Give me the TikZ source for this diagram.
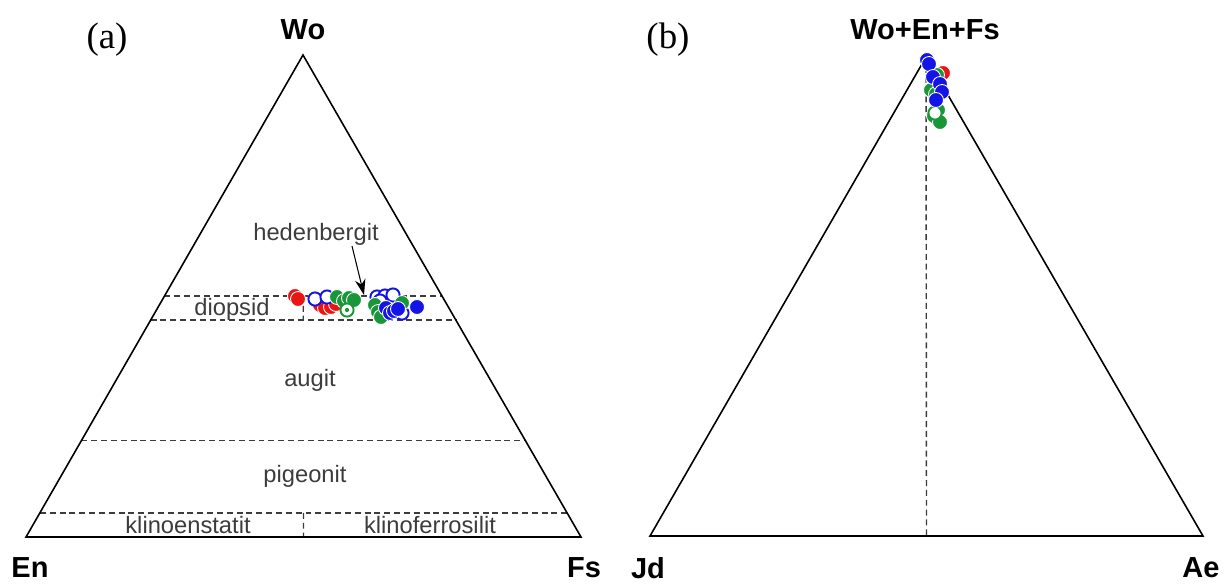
\documentclass[tikz,border=0pt]{standalone}
\usepackage{fontspec}
\setmainfont{Liberation Sans}
\newfontfamily\panelfont{Liberation Serif}
\usetikzlibrary{calc,arrows.meta}
\definecolor{ptred}{RGB}{235,20,20}
\definecolor{ptblue}{RGB}{20,20,230}
\definecolor{ptgreen}{RGB}{25,150,55}
\definecolor{fieldgray}{RGB}{60,60,60}

\begin{document}
\begin{tikzpicture}[x=0.02cm,y=-0.02cm,
	side/.style={line width=0.9pt},
	field/.style={fieldgray, line width=0.8pt, dash pattern=on 3.4pt off 2.2pt},
	apexlabel/.style={font=\bfseries\fontsize{16.5}{18}\selectfont},
	fieldlabel/.style={font=\fontsize{13.5}{15}\selectfont, text=fieldgray},
	panel/.style={font=\panelfont\fontsize{21}{24}\selectfont},
	ptdot/.style={circle, inner sep=0pt, minimum size=8.5pt, draw=white, line width=0.5pt, fill=#1},
	ptring/.style={circle, inner sep=0pt, minimum size=7.5pt, draw=#1, line width=1.1pt, fill=white}]
	\useasboundingbox (0,0) rectangle (1224,583);
	% corners of the two triangles
	\coordinate (Wo) at (303,55);
	\coordinate (En) at (26,537);
	\coordinate (Fs) at (581,537);
	\coordinate (WEF) at (926,57);
	\coordinate (Jd) at (650,536);
	\coordinate (Ae) at (1203,536);

	% (a) pyroxene quadrilateral fields
	\draw[field] ($(En)!0.5!(Wo)$) coordinate (w50l) -- ($(Fs)!0.5!(Wo)$) coordinate (w50r);
	\draw[field] ($(En)!0.45!(Wo)$) coordinate (w45l) -- ($(Fs)!0.45!(Wo)$) coordinate (w45r);
	\draw[field] ($(En)!0.2!(Wo)$) -- ($(Fs)!0.2!(Wo)$);
	\draw[field] ($(En)!0.05!(Wo)$) coordinate (w05l) -- ($(Fs)!0.05!(Wo)$) coordinate (w05r);
	\draw[field] ($(w50l)!0.5!(w50r)$) -- ($(w45l)!0.5!(w45r)$);
	\draw[field] ($(w05l)!0.5!(w05r)$) -- ($(En)!0.5!(Fs)$);
	\draw[side] (En) -- (Fs) -- (Wo) -- cycle;

	% (b)
	\draw[field] (WEF) -- ($(Jd)!0.5!(Ae)$);
	\draw[side] (Jd) -- (Ae) -- (WEF) -- cycle;

	\node[panel] at (107,40) (panelA) {(a)};
	\node[panel] at (668,40) (panelB) {(b)};
	\node[apexlabel] at (303,30) (woLabel) {Wo};
	\node[apexlabel] at (30,568) (enLabel) {En};
	\node[apexlabel] at (584,568) (fsLabel) {Fs};
	\node[apexlabel] at (925,30) (wefLabel) {Wo+En+Fs};
	\node[apexlabel] at (648,568) (jdLabel) {Jd};
	\node[apexlabel] at (1201,568) (aeLabel) {Ae};

	\node[fieldlabel] at (316,234) (hedLabel) {hedenbergit};
	\node[fieldlabel] at (232,309) (diLabel) {diopsid};
	\node[fieldlabel] at (310,380) (augLabel) {augit};
	\node[fieldlabel] at (305,476) (pigLabel) {pigeonit};
	\node[fieldlabel] at (188,525) (kenLabel) {klinoenstatit};
	\node[fieldlabel] at (430,525) (kfsLabel) {klinoferrosilit};
	\coordinate (hedTail) at (352,246);
	\coordinate (hedTip) at (364,295);
	\draw[-{Stealth[length=9pt,width=6pt]}, line width=0.6pt] (hedTail) -- (hedTip);

	% analyses, diagram (a)
	\foreach \p [count=\i] in {(295,296),(298,299),(320,305),(325,308),(331,307),(336,304)}
		\node[ptdot=ptred] (redA\i) at \p {};
	\node[circle, fill=ptred, inner sep=0pt, minimum size=2pt] (redA0) at (342,305) {};
	\foreach \p [count=\i] in {(315,299),(327,297),(377,297),(385,296),(393,295),(380,301),(402,313)}
		\node[ptring=ptblue] (blueRingA\i) at \p {};
	\foreach \p [count=\i] in {(337,297),(344,301),(349,298),(354,300),(375,305),(378,312),(381,317),(402,303)}
		\node[ptdot=ptgreen] (greenA\i) at \p {};
	\node[ptring=ptgreen] (greenRingA1) at (347,310) {};
	\fill[ptgreen] (greenRingA1) circle (1.2pt);
	\foreach \p [count=\i] in {(386,308),(390,313),(394,311),(398,309),(417,307)}
		\node[ptdot=ptblue] (blueA\i) at \p {};

	% analyses, diagram (b)
	\node[ptdot=ptred] (redB1) at (943,73) {};
	\foreach \p [count=\i] in {(937,75),(931,90),(936,94),(934,116),(938,110),(940,122)}
		\node[ptdot=ptgreen] (greenB\i) at \p {};
	\node[ptring=ptgreen] (greenRingB1) at (935,113) {};
	\foreach \p [count=\i] in {(927,60),(929,64),(933,77),(940,84),(942,92),(936,100)}
		\node[ptdot=ptblue] (blueB\i) at \p {};
\end{tikzpicture}
\end{document}
